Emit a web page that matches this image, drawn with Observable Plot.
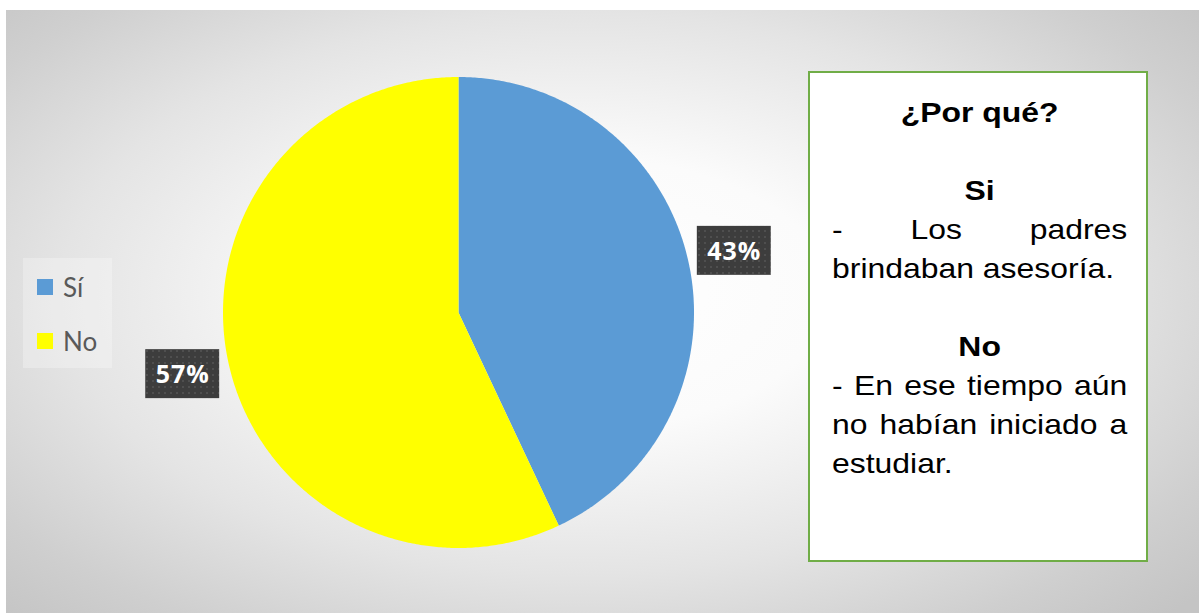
<!DOCTYPE html>
<html>
<head>
<meta charset="utf-8">
<script src="https://cdn.jsdelivr.net/npm/d3@7"></script>
<script src="https://cdn.jsdelivr.net/npm/@observablehq/plot@0.6"></script>
<style>
  html, body { margin: 0; padding: 0; background: #fff; }
  #page { position: relative; width: 1199px; height: 613px; overflow: hidden; background: #fff; }
  #bg { position: absolute; left: 6px; top: 10px; right: 0; bottom: 0;
        background: radial-gradient(ellipse 70% 75% at 48% 47%, #ffffff 0%, #fbfbfb 30%, #e4e4e4 62%, #cfcfcf 85%, #c4c4c4 100%); }
  #chart { position: absolute; left: 0; top: 0; }
  #legend { position: absolute; left: 23px; top: 258px; width: 89px; height: 110px; background: rgba(255,255,255,0.28);
            font-family: Lato, "Open Sans", sans-serif; font-size: 26px; color: #595959; }
  .li { position: absolute; left: 14px; height: 30px; display: flex; align-items: center; }
  .sw { width: 16px; height: 16px; margin-right: 10px; }
  #box { position: absolute; left: 808px; top: 71px; width: 340px; height: 491px; box-sizing: border-box;
         border: 2px solid #70AD47; background: #fff; }
  #txt { position: absolute; left: 22px; top: 20px; width: 259px; transform: scaleX(1.14); transform-origin: 0 0;
         font-family: "Liberation Sans", Arial, sans-serif; font-size: 28px; line-height: 39px; color: #000; }
  .ln { height: 39px; white-space: nowrap; }
  .c { text-align: center; font-weight: bold; }
  .j { text-align: justify; text-align-last: justify; white-space: normal; }
</style>
</head>
<body>
<div id="page">
  <div id="bg"></div>
  <div id="chart"></div>
  <div id="legend"></div>
  <div id="box"><div id="txt"></div></div>
</div>
<script>
// ---- data ----
const categories = ["Sí", "No"];
const values = [43, 57];
const labels = ["43%", "57%"];
const colors = ["#5B9BD5", "#FFFF00"];
const boxLines = [
  {t: "¿Por qué?", k: "c"},
  {t: "", k: ""},
  {t: "Si", k: "c"},
  {t: "- Los padres", k: "j"},
  {t: "brindaban asesoría.", k: ""},
  {t: "", k: ""},
  {t: "No", k: "c"},
  {t: "- En ese tiempo aún", k: "j"},
  {t: "no habían iniciado a", k: "j"},
  {t: "estudiar.", k: ""}
];

// ---- pie geometry from the values ----
const arcs = d3.pie().sort(null).value(d => d.v)(categories.map((c, i) => ({c, v: values[i], l: labels[i]})));
const slicePts = [];
for (const a of arcs) {
  slicePts.push({cat: a.data.c, x: 0, y: 0});
  const n = Math.max(2, Math.ceil((a.endAngle - a.startAngle) / (Math.PI / 360)));
  for (let k = 0; k <= n; k++) {
    const t = a.startAngle + (a.endAngle - a.startAngle) * k / n;
    slicePts.push({cat: a.data.c, x: Math.sin(t), y: Math.cos(t)});
  }
}
const lr = 1.2, hw = 0.157, hh = 0.104;
const lab = arcs.map(a => {
  const m = (a.startAngle + a.endAngle) / 2;
  const x = lr * Math.sin(m), y = lr * Math.cos(m);
  return {label: a.data.l, x, y, x1: x - hw, x2: x + hw, y1: y - hh, y2: y + hh};
});

const svg = Plot.plot({
  width: 1199, height: 613, margin: 0,
  x: {domain: [-1, 1], range: [222.5, 693.5], axis: null},
  y: {domain: [-1, 1], range: [547.5, 76.5], axis: null},
  color: {domain: categories, range: colors},
  style: {background: "transparent", overflow: "visible"},
  marks: [
    Plot.line(slicePts, {x: "x", y: "y", z: "cat", fill: "cat", stroke: null, curve: "linear-closed"}),
    Plot.rect(lab, {x1: "x1", x2: "x2", y1: "y1", y2: "y2", fill: "url(#dots)"}),
    Plot.text(lab, {x: "x", y: "y", text: "label", fill: "#fff", fontSize: 25, fontWeight: "bold",
      fontFamily: "'Open Sans', Lato, sans-serif", dy: 1})
  ]
});
const defs = d3.select(svg).insert("defs", ":first-child");
const pat = defs.append("pattern").attr("id", "dots").attr("patternUnits", "userSpaceOnUse")
  .attr("width", 6).attr("height", 6);
pat.append("rect").attr("width", 6).attr("height", 6).attr("fill", "#3d3d3d");
pat.append("rect").attr("x", 2).attr("y", 2).attr("width", 2).attr("height", 2).attr("fill", "#4f4f4f");
const flt = defs.append("filter").attr("id", "sh").attr("x", "-20%").attr("y", "-20%").attr("width", "150%").attr("height", "160%");
flt.append("feDropShadow").attr("dx", 3).attr("dy", 3).attr("stdDeviation", 2).attr("flood-color", "#000").attr("flood-opacity", 0.35);
d3.select(svg).selectAll("rect").filter(function() { return this.getAttribute("fill") === "url(#dots)"; })
  .attr("filter", "url(#sh)");
d3.select(svg).selectAll("text").style("letter-spacing", "1px");
document.getElementById("chart").appendChild(svg);

// ---- legend ----
const leg = d3.select("#legend");
categories.forEach((c, i) => {
  const it = leg.append("div").attr("class", "li").style("top", (i === 0 ? 14 : 68) + "px");
  it.append("div").attr("class", "sw").style("background", colors[i]);
  it.append("span").text(c);
});

// ---- text box ----
const tx = d3.select("#txt");
boxLines.forEach(l => {
  tx.append("div").attr("class", "ln " + l.k).html(l.t === "" ? "&nbsp;" : null).text(l.t === "" ? null : l.t);
});
</script>
</body>
</html>
